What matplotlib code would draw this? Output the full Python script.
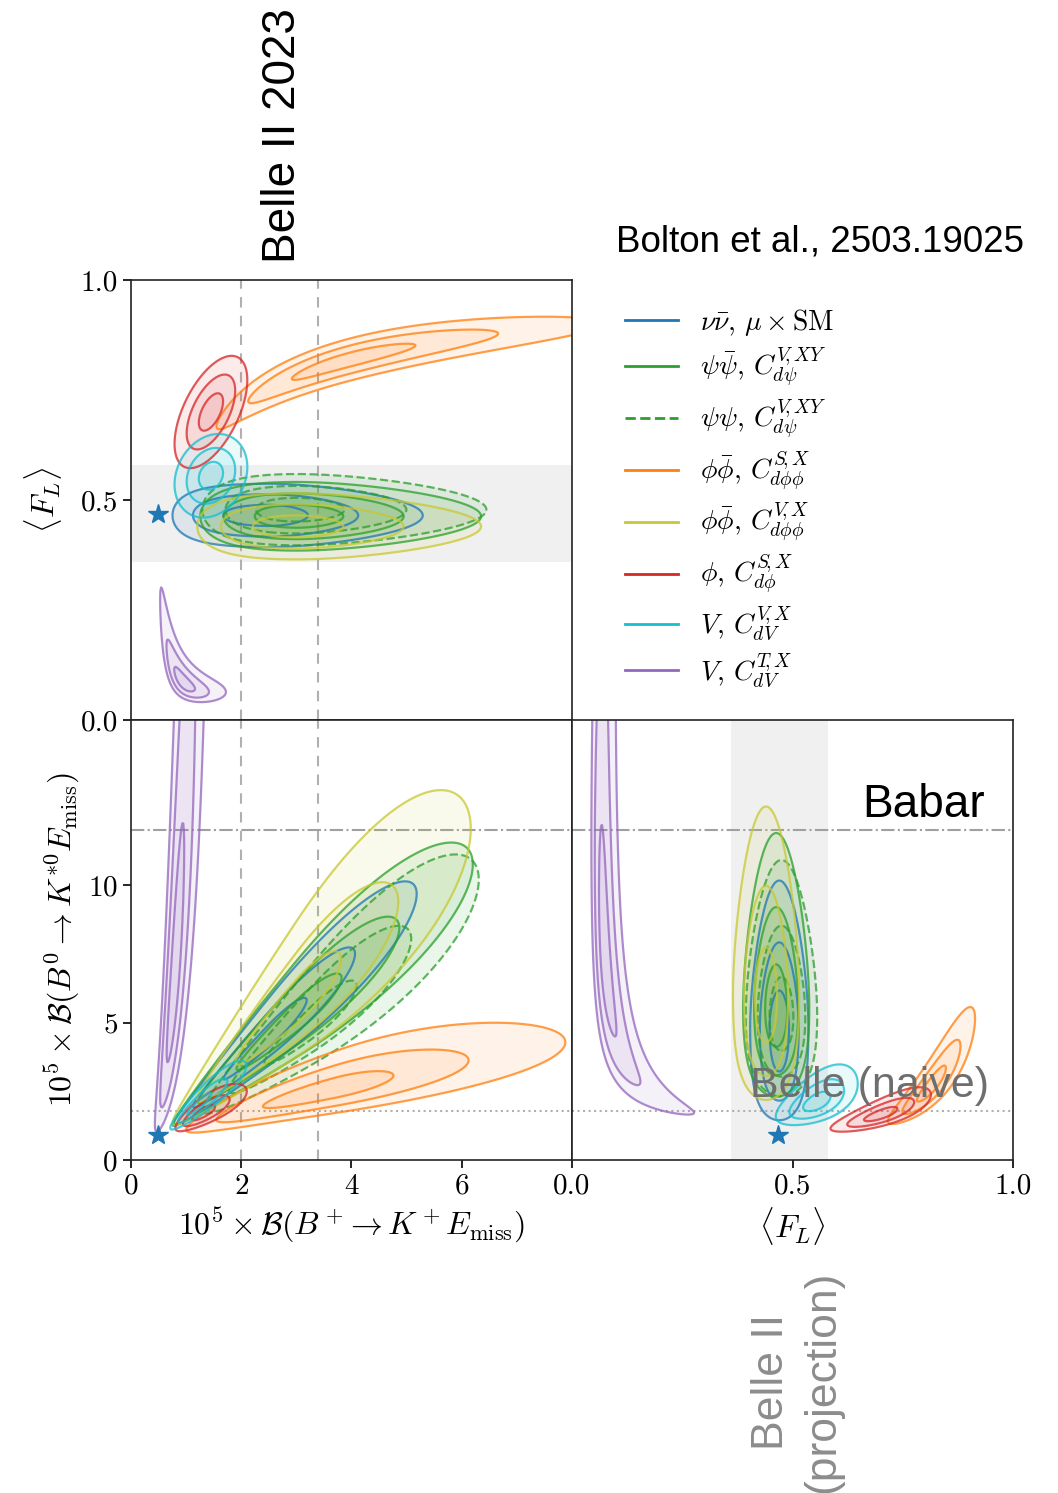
import numpy as np
import matplotlib
matplotlib.use('Agg')
import matplotlib.pyplot as plt
from matplotlib.lines import Line2D

plt.rcParams['mathtext.fontset'] = 'cm'
plt.rcParams['font.family'] = 'serif'
plt.rcParams['font.serif'] = ['cmr10']
plt.rcParams['axes.formatter.use_mathtext'] = True

# --- models -------------------------------------------------------------
labels = [r'$\nu\bar{\nu}$, $\mu\times\mathrm{SM}$',
          r'$\psi\bar{\psi}$, $C^{V\!,XY}_{d\psi}$',
          r'$\psi\psi$, $C^{V\!,XY}_{d\psi}$',
          r'$\phi\bar{\phi}$, $C^{S\!,X}_{d\phi\phi}$',
          r'$\phi\bar{\phi}$, $C^{V\!,X}_{d\phi\phi}$',
          r'$\phi$, $C^{S\!,X}_{d\phi}$',
          r'$V$, $C^{V\!,X}_{dV}$',
          r'$V$, $C^{T\!,X}_{dV}$']
colors = ['#1f77b4', '#2ca02c', '#2ca02c', '#ff7f0e', '#c8c832', '#d62728', '#17becf', '#9467bd']
styles = ['solid', 'solid', 'dashed', 'solid', 'solid', 'solid', 'solid', 'solid']

# posterior shapes, one row per model
# (cx, cy, sigma_along_low, sigma_along_high, sigma_cross, slope, bend, log x, log y, along axis)
fl_vs_bk = [
    (2.50, 0.465, 0.40, 0.25, 0.024, 0.0, 0.0, True, False, 'x'),
    (3.00, 0.463, 0.29, 0.25, 0.026, 0.0, 0.0, True, False, 'x'),
    (3.00, 0.478, 0.28, 0.255, 0.027, 0.0, 0.0, True, False, 'x'),
    (4.00, 0.820, 0.316, 0.255, 0.016, 0.1305, -0.0325, True, False, 'x'),
    (3.00, 0.440, 0.305, 0.25, 0.025, 0.0, 0.0, True, False, 'x'),
    (1.45, 0.700, 0.22, 0.22, 0.035, 0.11, 0.0, False, False, 'x'),
    (1.45, 0.555, 0.22, 0.22, 0.031, 0.03, 0.0, False, False, 'x'),
    (0.954, 0.086, 0.197, 0.197, 0.19, -1.23, 1.22, True, True, 'x'),
]
bks_vs_bk = [
    (2.50, 4.5, 0.40, 0.243, 0.09, 1.05, 0.0, True, True, 'x'),
    (3.00, 5.2, 0.45, 0.242, 0.11, 1.00, 0.0, True, True, 'x'),
    (3.30, 5.0, 0.31, 0.216, 0.12, 1.10, 0.0, True, True, 'x'),
    (3.70, 2.6, 0.436, 0.252, 0.14, 0.66, 0.0, True, True, 'x'),
    (3.00, 5.7, 0.46, 0.24, 0.14, 1.04, 0.0, True, True, 'x'),
    (1.30, 1.7, 0.16, 0.16, 0.10, 0.80, 0.0, True, True, 'x'),
    (1.22, 2.0, 0.18, 0.18, 0.08, 1.00, 0.0, True, True, 'x'),
    (0.79, 6.6, 0.62, 0.62, 0.10, 0.28, 0.0, True, True, 'y'),
]
bks_vs_fl = [
    (0.470, 4.8, 0.40, 0.25, 0.022, 0.0, 0.0, False, True, 'y'),
    (0.463, 5.5, 0.29, 0.257, 0.025, 0.0, 0.0, False, True, 'y'),
    (0.475, 5.2, 0.27, 0.247, 0.027, 0.0, 0.0, False, True, 'y'),
    (0.815, 2.7, 0.033, 0.033, 0.11, 6.5, 0.0, False, True, 'x'),
    (0.440, 6.0, 0.337, 0.254, 0.025, 0.0, 0.0, False, True, 'y'),
    (0.700, 1.65, 0.038, 0.038, 0.10, 3.2, 0.0, False, True, 'x'),
    (0.555, 2.1, 0.031, 0.031, 0.14, 3.0, 0.0, False, True, 'x'),
    (0.075, 7.4, 0.50, 0.50, 0.15, -0.373, 0.309, True, True, 'y'),
]

sm_bk, sm_bks, sm_fl = 0.49, 0.91, 0.468
belle2_bk = [2.0, 3.4]
babar_bks = 12.0
belle_bks = 1.8
fl_band = (0.36, 0.58)
levels = [1, 4, 9]


def chi2_map(X, Y, p):
    cx, cy, su_lo, su_hi, sv, slope, bend, logx, logy, along = p
    xt = np.log(X) if logx else X
    yt = np.log(Y) if logy else Y
    dx = xt - (np.log(cx) if logx else cx)
    dy = yt - (np.log(cy) if logy else cy)
    u, v = (dx, dy) if along == 'x' else (dy, dx)
    w = v - slope * u - bend * u ** 2
    su = np.where(u < 0, su_lo, su_hi)
    return (u / su) ** 2 + (w / sv) ** 2


def draw(ax, xr, yr, params):
    X, Y = np.meshgrid(np.linspace(*xr, 500), np.linspace(*yr, 500))
    for p, c, ls in zip(params, colors, styles):
        Z = chi2_map(X, Y, p)
        for lev in levels:
            ax.contourf(X, Y, Z, levels=[-1, lev], colors=[c], alpha=0.09)
        ax.contour(X, Y, Z, levels=levels, colors=[c], linewidths=1.6,
                   alpha=0.75, linestyles=ls)


fig = plt.figure(figsize=(10.58, 14.93), dpi=100)
W, H = 1058, 1493
ax_tl = fig.add_axes([131 / W, 1 - 720 / H, 441 / W, 440 / H])
ax_bl = fig.add_axes([131 / W, 1 - 1160 / H, 441 / W, 440 / H])
ax_br = fig.add_axes([572 / W, 1 - 1160 / H, 441 / W, 440 / H])

# top left: <F_L> vs B+
ax_tl.axhspan(*fl_band, color='#f0f0f0', zorder=0, lw=0)
for xv in belle2_bk:
    ax_tl.axvline(xv, color='#b0b0b0', ls=(0, (5, 4)), lw=1.5, zorder=1)
draw(ax_tl, (0.02, 8), (0.002, 1), fl_vs_bk)
ax_tl.plot(sm_bk, sm_fl, '*', color='#1f77b4', ms=15, zorder=5)
ax_tl.set_xlim(0, 8)
ax_tl.set_ylim(0, 1)
ax_tl.set_xticks([])
ax_tl.set_yticks([0, 0.5, 1.0])
ax_tl.set_yticklabels(['0.0', '0.5', '1.0'])
ax_tl.set_ylabel(r'$\langle F_L\rangle$', fontsize=23, labelpad=12)

# bottom left: B0 vs B+
for xv in belle2_bk:
    ax_bl.axvline(xv, color='#b0b0b0', ls=(0, (5, 4)), lw=1.5, zorder=1)
ax_bl.axhline(babar_bks, color='#a0a0a0', ls='-.', lw=1.5, zorder=1)
ax_bl.axhline(belle_bks, color='#b0b0b0', ls=':', lw=1.5, zorder=1)
draw(ax_bl, (0.02, 8), (0.02, 16), bks_vs_bk)
ax_bl.plot(sm_bk, sm_bks, '*', color='#1f77b4', ms=15, zorder=5)
ax_bl.set_xlim(0, 8)
ax_bl.set_ylim(0, 16)
ax_bl.set_xticks([0, 2, 4, 6])
ax_bl.set_yticks([0, 5, 10])
ax_bl.set_xlabel(r'$10^5\times\mathcal{B}(B^+\!\to K^+E_{\mathrm{miss}})$', fontsize=23)
ax_bl.set_ylabel(r'$10^5\times\mathcal{B}(B^0\to K^{*0}E_{\mathrm{miss}})$', fontsize=23)

# bottom right: B0 vs <F_L>
ax_br.axvspan(*fl_band, color='#f0f0f0', zorder=0, lw=0)
ax_br.axhline(babar_bks, color='#a0a0a0', ls='-.', lw=1.5, zorder=1)
ax_br.axhline(belle_bks, color='#b0b0b0', ls=':', lw=1.5, zorder=1)
draw(ax_br, (0.002, 1), (0.02, 16), bks_vs_fl)
ax_br.plot(sm_fl, sm_bks, '*', color='#1f77b4', ms=15, zorder=5)
ax_br.set_xlim(0, 1)
ax_br.set_ylim(0, 16)
ax_br.set_xticks([0, 0.5, 1.0])
ax_br.set_xticklabels(['0.0', '0.5', '1.0'])
ax_br.set_yticks([])
ax_br.set_xlabel(r'$\langle F_L\rangle$', fontsize=23)

for ax in (ax_tl, ax_bl, ax_br):
    ax.tick_params(labelsize=21, direction='out', length=6, width=1.2)
    for s in ax.spines.values():
        s.set_linewidth(1.2)
        s.set_color('#222222')

handles = [Line2D([], [], color=c, ls=ls, lw=2) for c, ls in zip(colors, styles)]
fig.legend(handles, labels, loc='upper left', bbox_to_anchor=(625 / W, 1 - 307 / H),
           fontsize=20, frameon=False, handlelength=1.9, handletextpad=0.8,
           labelspacing=0.28, borderpad=0, borderaxespad=0)

sans = 'Liberation Sans'
fig.text(283 / W, 1 - 136 / H, 'Belle II 2023', rotation=90, ha='center', va='center',
         fontsize=33, family=sans)
fig.text(616 / W, 1 - 242 / H, 'Bolton et al., 2503.19025', ha='left', va='center',
         fontsize=26.5, family=sans)
fig.text(862 / W, 1 - 817 / H, 'Babar', ha='left', va='baseline', fontsize=33, family=sans)
fig.text(750 / W, 1 - 1097 / H, 'Belle (naive)', ha='left', va='baseline', fontsize=31,
         family=sans, color='#6e6e6e')
fig.text(797 / W, 1 - 1382 / H, 'Belle II\n(projection)', rotation=90, ha='center',
         va='center', fontsize=32, family=sans, color='#8c8c8c', linespacing=1.3,
         multialignment='center')

fig.savefig('out.png', dpi=100)
